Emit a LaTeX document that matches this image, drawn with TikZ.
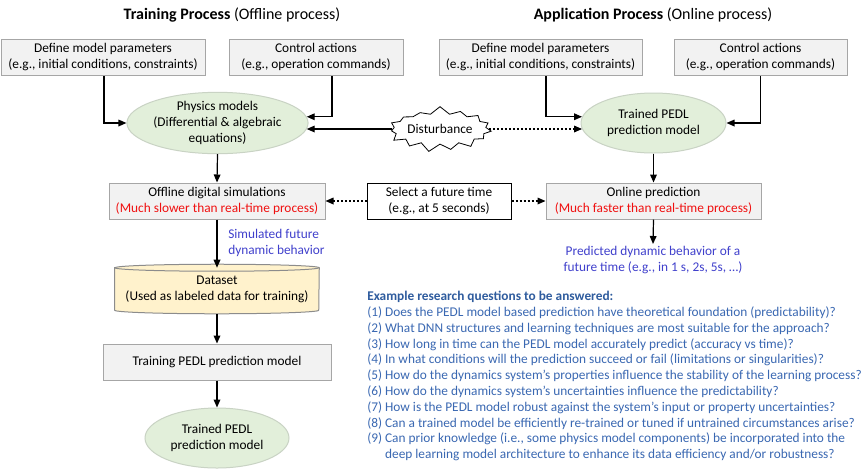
\documentclass[tikz,border=0pt]{standalone}
\usepackage{fontspec}
\setmainfont{Carlito}
\usetikzlibrary{arrows.meta,shapes.geometric,shapes.symbols,calc}
\pgfdeclarelayer{background}
\pgfsetlayers{background,main}
\newdimen\pxu \pxu=0.75pt
\definecolor{boxfill}{HTML}{F2F2F2}
\definecolor{boxdraw}{HTML}{A6A6A6}
\definecolor{ellfill}{HTML}{E2EFDA}
\definecolor{elldraw}{HTML}{C9D3C4}
\definecolor{dsfill}{HTML}{FFF2CC}
\definecolor{dsdraw}{HTML}{8C8C8C}
\definecolor{redtxt}{HTML}{F01010}
\definecolor{purtxt}{HTML}{4040CC}
\definecolor{qtxt}{HTML}{3A68B2}
\definecolor{qhead}{HTML}{2F5C9E}
\tikzset{
  every node/.style={font=\fontsize{10}{12}\selectfont, align=center, inner sep=0pt},
  gbox/.style={draw=boxdraw, fill=boxfill, line width=0.75pt, rectangle},
  wbox/.style={draw=black, fill=white, line width=0.75pt, rectangle},
  gell/.style={draw=elldraw, fill=ellfill, line width=0.75pt, ellipse},
  arr/.style={line width=0.9pt, -{Triangle[length=6pt,width=5pt]}},
  dotarr/.style={arr, dash pattern=on 1.5pt off 1.5pt},
  ttl/.style={font=\fontsize{12}{14}\selectfont},
}
\begin{document}
\begin{tikzpicture}[x=0.75pt, y=-0.75pt]
\useasboundingbox (0,0) rectangle (866,472);
\begin{pgfonlayer}{background}
\fill[white] (0,0) rectangle (866,472);
\end{pgfonlayer}

% titles
\node[ttl] (t1) at (232,15) {\textbf{Training Process} (Offline process)};
\node[ttl] (t2) at (653,15) {\textbf{Application Process} (Online process)};

% top boxes
\node[gbox, minimum width=204\pxu, minimum height=36\pxu] (defL) at (103,57.5) {Define model parameters\\(e.g., initial conditions, constraints)};
\node[gbox, minimum width=174\pxu, minimum height=36\pxu] (ctrlL) at (316,57.5) {Control actions\\(e.g., operation commands)};
\node[gbox, minimum width=203\pxu, minimum height=36\pxu] (defR) at (540.5,57.5) {Define model parameters\\(e.g., initial conditions, constraints)};
\node[gbox, minimum width=173\pxu, minimum height=36\pxu] (ctrlR) at (760.5,57.5) {Control actions\\(e.g., operation commands)};

% ellipses
\node[gell, minimum width=175\pxu, minimum height=60\pxu] (phys) at (217.5,123) {Physics models\\(Differential \& algebraic\\equations)};
\node[gell, minimum width=145\pxu, minimum height=60\pxu] (trR) at (653.5,123) {Trained PEDL\\prediction model};

% disturbance
\node[starburst, draw=black, fill=white, line width=0.6pt, starburst points=15, starburst point height=6pt, random starburst=7, inner xsep=0pt, inner ysep=4.5pt, minimum width=92\pxu, minimum height=35\pxu] (dist) at (440,129) {Disturbance};

% middle row
\node[gbox, minimum width=216\pxu, minimum height=36\pxu] (off) at (217,201) {Offline digital simulations\\\textcolor{redtxt}{(Much slower than real-time process)}};
\node[wbox, minimum width=144\pxu, minimum height=36\pxu] (sel) at (439,201) {Select a future time\\(e.g., at 5 seconds)};
\node[gbox, minimum width=215\pxu, minimum height=36\pxu] (onl) at (653.5,201) {Online prediction\\\textcolor{redtxt}{(Much faster than real-time process)}};

% labels
\node[anchor=north west, align=left, text=purtxt] (sim) at (228,229) {Simulated future\\dynamic behavior};
\node[text=purtxt] (pred) at (653,260) {Predicted dynamic behavior of a\\future time (e.g., in 1 s, 2s, 5s, \dots)};
\coordinate (predtop) at (653,244);

% dataset
\node[minimum width=204\pxu, minimum height=42\pxu] (ds) at (217,289) {Dataset\\(Used as labeled data for training)};
\begin{pgfonlayer}{background}
\path[fill=dsfill, draw=dsdraw, line width=0.75pt] (ds.north west) -- (ds.south west)
  arc[start angle=180, end angle=360, x radius=102\pxu, y radius=3.5\pxu]
  -- (ds.north east)
  arc[start angle=0, end angle=180, x radius=102\pxu, y radius=3.5\pxu] -- cycle;
\draw[draw=dsdraw, line width=0.75pt] (ds.north west) arc[start angle=180, end angle=360, x radius=102\pxu, y radius=3.5\pxu];
\end{pgfonlayer}

\node[gbox, minimum width=228\pxu, minimum height=36\pxu] (trn) at (217,362) {Training PEDL prediction model};
\node[gell, minimum width=144\pxu, minimum height=60\pxu] (trL) at (217,438) {Trained PEDL\\prediction model};

% questions
\node[anchor=north west, align=left, text=qtxt, font=\fontsize{10}{11.85}\selectfont] (q) at (367,291) {%
\textcolor{qhead}{\textbf{Example research questions to be answered:}}\\
(1) Does the PEDL model based prediction have theoretical foundation (predictability)?\\
(2) What DNN structures and learning techniques are most suitable for the approach?\\
(3) How long in time can the PEDL model accurately predict (accuracy vs time)?\\
(4) In what conditions will the prediction succeed or fail (limitations or singularities)?\\
(5) How do the dynamics system’s properties influence the stability of the learning process?\\
(6) How do the dynamics system’s uncertainties influence the predictability?\\
(7) How is the PEDL model robust against the system’s input or property uncertainties?\\
(8) Can a trained model be efficiently re-trained or tuned if untrained circumstances arise?\\
(9) Can prior knowledge (i.e., some physics model components) be incorporated into the\\
\phantom{(9) }deep learning model architecture to enhance its data efficiency and/or robustness?};

% connectors
\draw[arr] ([xshift=1\pxu]defL.south) |- (phys.west);
\draw[arr] ([xshift=16\pxu]ctrlL.south) |- (phys.4);
\draw[arr] (dist.west) -- (phys.-4 |- dist.west);
\draw[dotarr] (dist.east) -- (trR.185 |- dist.east);
\draw[arr] ([xshift=5.5\pxu]defR.south) |- (trR.175);
\draw[arr] (ctrlR.south) |- (trR.east);
\draw[arr] (phys.south) -- (off.north);
\draw[arr] (trR.south) -- (onl.north);
\draw[dotarr] (sel.west) -- (off.east);
\draw[dotarr] (sel.east) -- (onl.west);
\draw[arr] (onl.south) -- (predtop);
\draw[arr] (off.south) -- (ds.north);
\draw[arr] ([yshift=-3.5\pxu]ds.south) -- (trn.north);
\draw[arr] (trn.south) -- (trL.north);
\end{tikzpicture}
\end{document}
